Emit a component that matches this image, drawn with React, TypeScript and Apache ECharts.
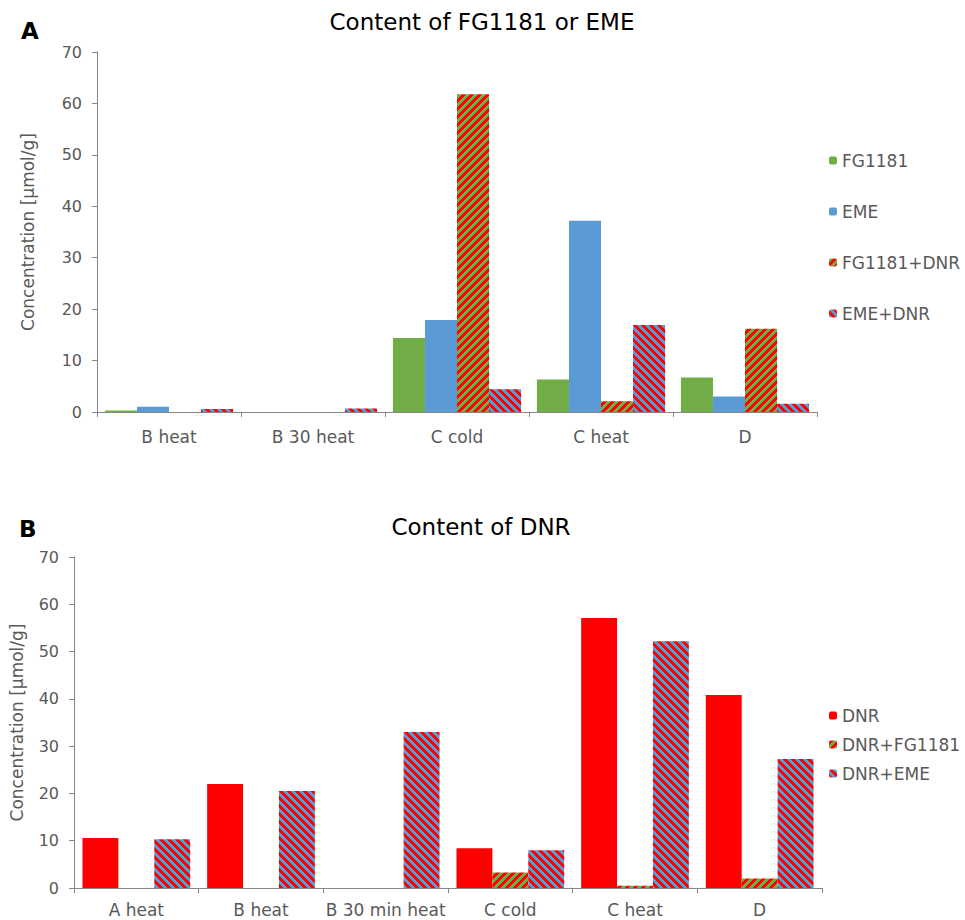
import React, { useEffect, useRef } from "react";
import * as echarts from "echarts";

// Panel A: content of FG1181 or EME
const catsA = ["B heat", "B 30 heat", "C cold", "C heat", "D"];
const fg1181 = [0.3, 0, 14.4, 6.3, 6.7];
const eme = [1.0, 0, 17.9, 37.2, 3.0];
const fg1181Dnr = [0, 0, 61.8, 2.1, 16.2];
const emeDnr = [0.6, 0.7, 4.4, 16.9, 1.6];

// Panel B: content of DNR
const catsB = ["A heat", "B heat", "B 30 min heat", "C cold", "C heat", "D"];
const dnr = [10.6, 22.0, 0, 8.4, 57.1, 40.8];
const dnrFg1181 = [0, 0, 0, 3.3, 0.5, 2.0];
const dnrEme = [10.3, 20.5, 33.0, 8.0, 52.2, 27.3];

const GREEN = "#70AD47";
const BLUE = "#5B9BD5";
const RED = "#FF0000";
const AXIS = "#868686";
const TEXT = "#595959";
const FONT = "DejaVu Sans";

// Diagonal stripe tile; dir 1 gives "/" stripes, -1 gives "\" stripes
function stripes(bg: string, fg: string, dir: number, size = 8) {
  const c = document.createElement("canvas");
  c.width = size;
  c.height = size;
  const ctx = c.getContext("2d")!;
  ctx.fillStyle = bg;
  ctx.fillRect(0, 0, size, size);
  ctx.fillStyle = fg;
  for (let y = 0; y < size; y++) {
    for (let x = 0; x < size; x++) {
      const k = dir === 1 ? (x + y) % size : (((x - y) % size) + size) % size;
      if (k < size / 2) ctx.fillRect(x, y, 1, 1);
    }
  }
  return { image: c, repeat: "repeat" } as any;
}

export default function App() {
  const ref = useRef<HTMLDivElement>(null);

  useEffect(() => {
    document.body.style.margin = "0";
    const chart = echarts.init(ref.current!, null, { renderer: "svg" });

    const yAxisBase = (gridIndex: number, nameGap: number) => ({
      type: "value",
      gridIndex,
      min: 0,
      max: 70,
      interval: 10,
      name: "Concentration [µmol/g]",
      nameLocation: "middle",
      nameGap,
      nameTextStyle: { color: TEXT, fontSize: 17, fontFamily: FONT },
      axisLine: { show: true, lineStyle: { color: AXIS, width: 1 } },
      axisTick: { show: true, length: 5, lineStyle: { color: AXIS } },
      axisLabel: { color: TEXT, fontSize: 16, fontFamily: FONT, margin: 15 },
      splitLine: { show: false },
    });

    const xAxisBase = (gridIndex: number, data: string[], margin: number) => ({
      type: "category",
      gridIndex,
      data,
      axisLine: { lineStyle: { color: AXIS, width: 1 } },
      axisTick: { show: true, length: 5, lineStyle: { color: AXIS } },
      axisLabel: { color: TEXT, fontSize: 17, fontFamily: FONT, margin, interval: 0 },
    });

    const barA = (name: string, data: number[], color: any) => ({
      type: "bar",
      name,
      data,
      xAxisIndex: 0,
      yAxisIndex: 0,
      barGap: "0%",
      barCategoryGap: "11%",
      itemStyle: { color },
    });
    const barB = (name: string, data: number[], color: any) => ({
      type: "bar",
      name,
      data,
      xAxisIndex: 1,
      yAxisIndex: 1,
      barGap: "0%",
      barCategoryGap: "13.6%",
      itemStyle: { color },
    });

    const legendText = { color: TEXT, fontSize: 17, fontFamily: FONT };

    chart.setOption({
      animation: false,
      backgroundColor: "#ffffff",
      textStyle: { fontFamily: FONT },
      title: [
        {
          text: "Content of FG1181 or EME",
          left: 477,
          top: 5,
          textAlign: "center",
          textStyle: { fontSize: 23, fontWeight: "normal", color: "#000", fontFamily: FONT },
        },
        {
          text: "Content of DNR",
          left: 476,
          top: 510,
          textAlign: "center",
          textStyle: { fontSize: 23, fontWeight: "normal", color: "#000", fontFamily: FONT },
        },
        {
          text: "A",
          left: 16,
          top: 14,
          textStyle: { fontSize: 23, fontWeight: "bold", color: "#000", fontFamily: FONT },
        },
        {
          text: "B",
          left: 14,
          top: 512,
          textStyle: { fontSize: 23, fontWeight: "bold", color: "#000", fontFamily: FONT },
        },
      ],
      legend: [
        {
          orient: "vertical",
          left: 824,
          top: 147,
          itemWidth: 8,
          itemHeight: 8,
          itemGap: 34,
          data: ["FG1181", "EME", "FG1181+DNR", "EME+DNR"],
          textStyle: legendText,
        },
        {
          orient: "vertical",
          left: 824,
          top: 702,
          itemWidth: 8,
          itemHeight: 8,
          itemGap: 12,
          data: ["DNR", "DNR+FG1181", "DNR+EME"],
          textStyle: legendText,
        },
      ],
      grid: [
        { left: 97, top: 52, width: 720, height: 360 },
        { left: 72, top: 557, width: 750, height: 331 },
      ],
      xAxis: [xAxisBase(0, catsA, 16), xAxisBase(1, catsB, 13)],
      yAxis: [yAxisBase(0, 61), yAxisBase(1, 49)],
      series: [
        barA("FG1181", fg1181, GREEN),
        barA("EME", eme, BLUE),
        barA("FG1181+DNR", fg1181Dnr, stripes(RED, GREEN, 1)),
        barA("EME+DNR", emeDnr, stripes(RED, BLUE, -1)),
        barB("DNR", dnr, RED),
        barB("DNR+FG1181", dnrFg1181, stripes(GREEN, RED, 1)),
        barB("DNR+EME", dnrEme, stripes(BLUE, RED, -1)),
      ],
    });

    return () => chart.dispose();
  }, []);

  return <div ref={ref} style={{ width: 965, height: 920 }} />;
}
